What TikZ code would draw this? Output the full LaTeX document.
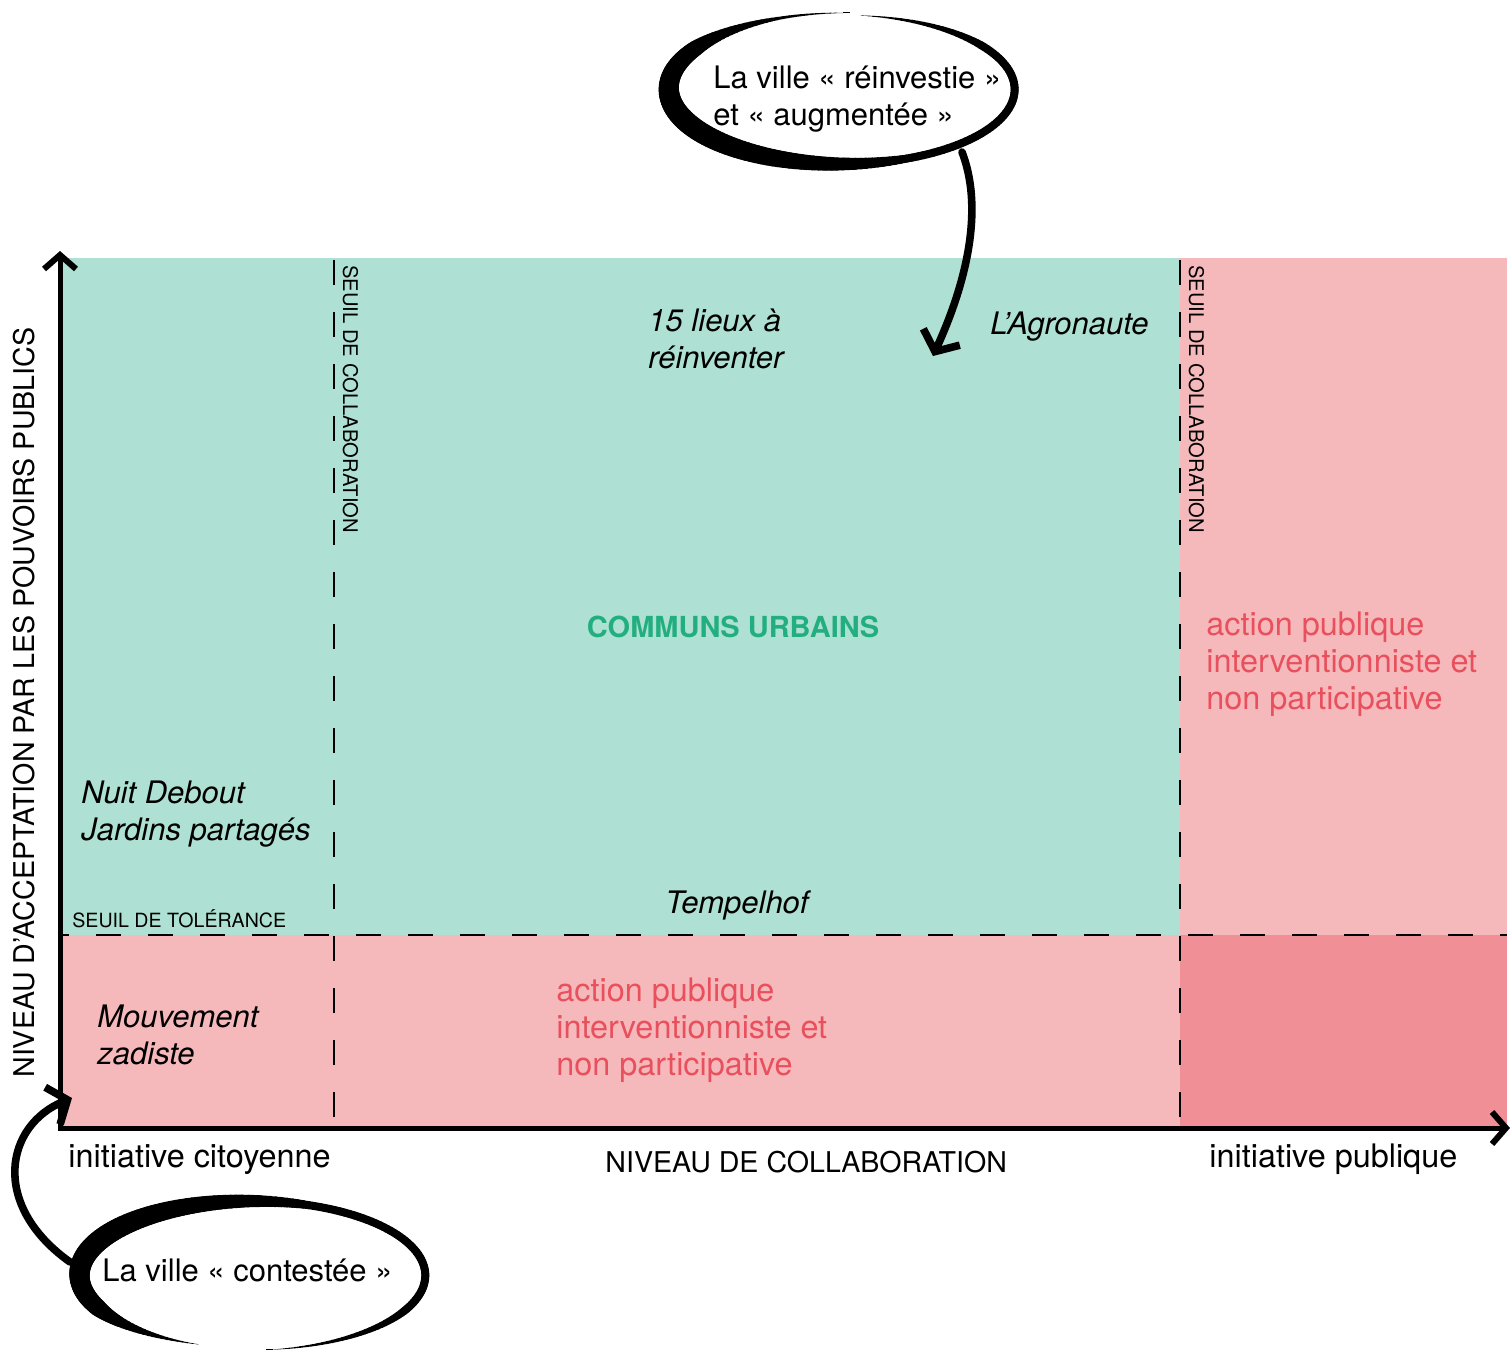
\documentclass[tikz,border=0pt]{standalone}
\usepackage{fontspec}
\setmainfont{TeX Gyre Heros}
\usepackage{tikz}
\usepackage{xcolor}
\usetikzlibrary{arrows.meta}

\definecolor{communs}{HTML}{AEE1D3}
\definecolor{rose}{HTML}{F6B9BB}
\definecolor{roseplus}{HTML}{F18F96}
\definecolor{vertcommuns}{HTML}{23AE7F}
\definecolor{rougeaction}{HTML}{E8505D}

% hand drawn loop: cx, cy, a, b, start angle, end angle, thickest angle
\newcommand{\inkloop}[7]{%
  \foreach \i in {0,...,179}{%
    \pgfmathsetmacro\ta{#5+(\i/180)*(#6-#5)}
    \pgfmathsetmacro\tb{#5+((\i+1)/180)*(#6-#5)}
    \pgfmathsetmacro\sc{1.015-0.03*\i/180}
    \pgfmathsetmacro\w{(8+13*max(0,cos(\ta-#7)))*min(1,\i/30)*min(1,(180-\i)/25)}
    \draw[line width=\w*0.5pt, line cap=round]
      ({#1+\sc*#3*cos(\ta)},{#2+\sc*#4*sin(\ta)}) -- ({#1+\sc*#3*cos(\tb)},{#2+\sc*#4*sin(\tb)});
  }%
}

\begin{document}
\begin{tikzpicture}[x=0.5pt, y=-0.5pt,
    txt/.style={inner sep=0, anchor=base west, align=left, font=\fontsize{16.2}{18.5}\selectfont},
    italique/.style={txt, font=\fontsize{15.5}{18.5}\selectfont\itshape},
    bulle/.style={txt, font=\fontsize{15.5}{18.5}\selectfont},
    petit/.style={inner sep=0, anchor=base west, font=\fontsize{9.8}{12}\selectfont},
    axelabel/.style={inner sep=0, anchor=base west, font=\fontsize{14.3}{17}\selectfont},
    seuil/.style={line width=1.4pt, dash pattern=on 12.5pt off 13.5pt},
    axe/.style={line width=2.5pt, -{Straight Barb[length=7pt, width=16pt, line width=3pt]}},
    inkarrow/.style={line width=3.8pt, line cap=round, -{Straight Barb[length=8pt, width=20pt]}}]
    \useasboundingbox (0,0) rectangle (1511,1351);

    % zones
    \fill[communs] (60,258) rectangle (1180,935);
    \fill[rose] (1180,258) rectangle (1507,935);
    \fill[rose] (60,935) rectangle (1180,1128);
    \fill[roseplus] (1180,935) rectangle (1507,1128);

    % thresholds
    \draw[seuil] (334,260) -- (334,1128);
    \draw[seuil] (1180,260) -- (1180,1128);
    \draw[seuil, dash phase=8pt] (60,935) -- (1507,935);

    % axes
    \draw[axe] (60,1130) -- (60,251);
    \draw[axe] (58,1128) -- (1510,1128);

    % labels (multi-line nodes sit on their last baseline)
    \node[axelabel, rotate=90] (niveauaccept) at (34,1078) {NIVEAU D’ACCEPTATION PAR LES POUVOIRS PUBLICS};
    \node[axelabel] (niveaucollab) at (605,1172) {NIVEAU DE COLLABORATION};
    \node[txt] (initcitoyenne) at (68,1167) {initiative citoyenne};
    \node[txt] (initpublique) at (1209,1167) {initiative publique};
    \node[petit, rotate=-90, font=\fontsize{10.1}{12}\selectfont] (seuilcollabA) at (343,265) {SEUIL DE COLLABORATION};
    \node[petit, rotate=-90, font=\fontsize{10.1}{12}\selectfont] (seuilcollabB) at (1189,265) {SEUIL DE COLLABORATION};
    \node[petit] (seuiltol) at (72,927) {SEUIL DE TOLÉRANCE};

    \node[inner sep=0, anchor=base, font=\fontsize{14.5}{17}\selectfont\bfseries, text=vertcommuns] (communsurbains) at (733,637) {COMMUNS URBAINS};
    \node[txt, text=rougeaction] (actionhaut) at (1206,709) {action publique\\interventionniste et\\non participative};
    \node[txt, text=rougeaction] (actionbas) at (556,1075) {action publique\\interventionniste et\\non participative};

    \node[italique] (lieux) at (648,368) {15 lieux à\\réinventer};
    \node[italique] (agronaute) at (990,334) {L’Agronaute};
    \node[italique] (nuitdebout) at (81,840) {Nuit Debout\\Jardins partagés};
    \node[italique] (tempelhof) at (665,913) {Tempelhof};
    \node[italique] (zadiste) at (97,1064) {Mouvement\\zadiste};

    % la ville reinvestie
    \inkloop{843}{89}{173}{75}{272}{-84}{160}
    \node[bulle] (reinvest) at (713,125) {La ville « réinvestie »\\et « augmentée »};
    \coordinate (reinvestfoot) at (962,152);
    \coordinate (reinvestpointe) at (933,356);
    \draw[inkarrow] (reinvestfoot) .. controls (990,225) and (951,316) .. (reinvestpointe);

    % la ville contestee
    \inkloop{251}{1275}{173}{74}{85}{-252}{-160}
    \node[bulle] (contest) at (102,1281) {La ville « contestée »};
    \coordinate (contestfoot) at (70,1262);
    \coordinate (contestpointe) at (72,1098);
    \draw[inkarrow] (contestfoot) .. controls (-10,1205) and (5,1125) .. (contestpointe);
\end{tikzpicture}
\end{document}
